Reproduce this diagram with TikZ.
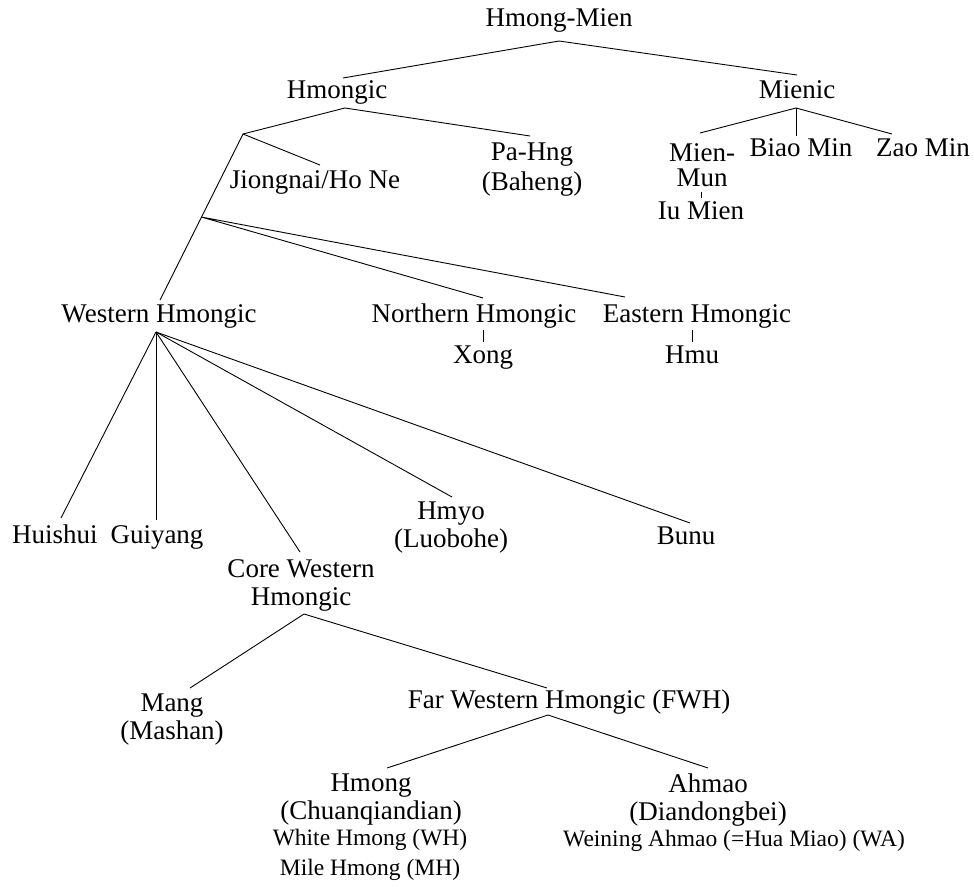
\documentclass[tikz,border=0pt]{standalone}
\usepackage{fontspec}
\setmainfont{Liberation Serif}
\usetikzlibrary{positioning}

\begin{document}
\begin{tikzpicture}[
  x=1pt, y=-1pt,
  lang/.style={inner sep=0pt, text height=18pt, text depth=6pt, font=\fontsize{27}{28}\selectfont},
  langtwo/.style={inner sep=0pt, align=center, font=\fontsize{27}{28}\selectfont},
  dial/.style={inner sep=0pt, text height=15pt, text depth=5pt, font=\fontsize{23.5}{25}\selectfont},
  branch/.style={line width=0.9pt}
]
  \useasboundingbox (0,0) rectangle (974,886);

  % top levels
  \node[lang] (root) at (559,20) {Hmong-Mien};
  \node[lang] (hmongic) at (337,92) {Hmongic};
  \node[lang] (mienic) at (797,92) {Mienic};

  \node[langtwo] (pahng) at (532,170) {Pa-Hng\\[2pt](Baheng)};
  \node[lang] (jiongnai) at (315,182) {Jiongnai/Ho Ne};
  \node[langtwo] (mienmun) at (702,165) {Mien-\\[-3pt]Mun};
  \node[lang] (iumien) at (701,213) {Iu Mien};
  \node[lang] (biaomin) at (801,150) {Biao Min};
  \node[lang] (zaomin) at (923,150) {Zao Min};

  \node[lang] (western) at (159,316) {Western Hmongic};
  \node[lang] (northern) at (474,316) {Northern Hmongic};
  \node[lang] (eastern) at (697,316) {Eastern Hmongic};
  \node[lang] (xong) at (483,357) {Xong};
  \node[lang] (hmu) at (692,357) {Hmu};

  % western branch
  \node[lang] (huishui) at (55,537) {Huishui};
  \node[lang] (guiyang) at (157,537) {Guiyang};
  \node[langtwo] (corewest) at (301,585) {Core Western\\Hmongic};
  \node[langtwo] (hmyo) at (451,528) {Hmyo\\(Luobohe)};
  \node[lang] (bunu) at (686,538) {Bunu};

  \node[langtwo] (mang) at (172,720) {Mang\\(Mashan)};
  \node[lang] (fwh) at (569,702) {Far Western Hmongic (FWH)};
  \node[langtwo] (hmong) at (371,800) {Hmong\\(Chuanqiandian)};
  \node[langtwo] (ahmao) at (708,800) {Ahmao\\(Diandongbei)};
  \node[dial] (wh) at (370,840) {White Hmong (WH)};
  \node[dial] (mh) at (370,870) {Mile Hmong (MH)};
  \node[dial] (wa) at (734,841) {Weining Ahmao (=Hua Miao) (WA)};

  % fork points and line ends
  \coordinate (root-fork) at (559,41);
  \coordinate (hmongic-top) at (343,78);
  \coordinate (mienic-top) at (797,75);
  \coordinate (hmongic-fork) at (345,108);
  \coordinate (hm-split) at (243,134);
  \coordinate (pahng-top) at (530,136);
  \coordinate (jiongnai-top) at (320,165);
  \coordinate (western-top) at (160,300);
  \coordinate (nh-split) at (201.3,217);
  \coordinate (northern-top) at (483,298);
  \coordinate (eastern-top) at (625,297);
  \coordinate (mienic-fork) at (796,108);
  \coordinate (mienmun-top) at (700,133);
  \coordinate (biaomin-top) at (796,136);
  \coordinate (zaomin-top) at (892,134);
  \coordinate (western-fork) at (156,332);
  \coordinate (huishui-top) at (61,518);
  \coordinate (guiyang-top) at (156,520);
  \coordinate (corewest-top) at (300,552);
  \coordinate (hmyo-top) at (452,497);
  \coordinate (bunu-top) at (690,523);
  \coordinate (corewest-fork) at (304,614);
  \coordinate (mang-top) at (190,688);
  \coordinate (fwh-top) at (547,688);
  \coordinate (fwh-fork) at (548,715);
  \coordinate (hmong-top) at (387,768);
  \coordinate (ahmao-top) at (708,768);

  % tree lines
  \draw[branch] (hmongic-top) -- (root-fork) -- (mienic-top);
  \draw[branch] (hm-split) -- (hmongic-fork) -- (pahng-top);
  \draw[branch] (jiongnai-top) -- (hm-split) -- (western-top);
  \draw[branch] (northern-top) -- (nh-split) -- (eastern-top);
  \draw[branch] (mienmun-top) -- (mienic-fork) -- (zaomin-top);
  \draw[branch] (mienic-fork) -- (biaomin-top);
  \draw[branch, shorten <=5pt, shorten >=3pt] (mienmun.south -| iumien.north) -- (iumien.north);
  \draw[branch, shorten <=2pt, shorten >=3pt] (northern.south -| xong.north) -- (xong.north);
  \draw[branch, shorten <=2pt, shorten >=3pt] (eastern.south -| hmu.north) -- (hmu.north);
  \foreach \leaf in {huishui-top, guiyang-top, corewest-top, hmyo-top, bunu-top}
    \draw[branch] (western-fork) -- (\leaf);
  \draw[branch] (mang-top) -- (corewest-fork) -- (fwh-top);
  \draw[branch] (hmong-top) -- (fwh-fork) -- (ahmao-top);
\end{tikzpicture}
\end{document}
